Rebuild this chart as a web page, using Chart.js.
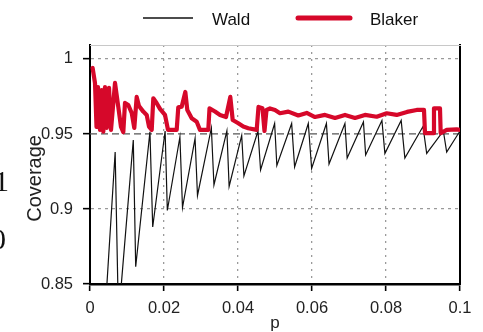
<!DOCTYPE html>
<html><head><meta charset="utf-8">
<script src="https://cdn.jsdelivr.net/npm/chart.js@4.4.1/dist/chart.umd.min.js"></script>
<style>
html,body{margin:0;padding:0;background:#fff;overflow:hidden}
#wrap{position:relative;width:483px;height:332px;background:#fff}
canvas{position:absolute;left:0;top:0}
.frag{position:absolute;font-family:"Liberation Serif","DejaVu Serif",serif;font-size:30px;color:#111;line-height:1}
</style></head><body>
<div id="wrap"><canvas id="c" width="483" height="332"></canvas>
<div class="frag" style="left:-6px;top:166px">1</div>
<div class="frag" style="left:-9px;top:224px">0</div>
</div>
<script>
// ---- data ----
const seriesNames = ['Wald', 'Blaker'];
const xTicks = [0, 0.02, 0.04, 0.06, 0.08, 0.1];
const yTicks = [0.85, 0.9, 0.95, 1];
const xRange = [0, 0.1];
const yRange = [0.85, 1.0093];
const refLevel = [0.95];

const pWald = [0.0043, 0.0068, 0.0076, 0.0081, 0.0117, 0.01235, 0.0162, 0.01695, 0.0203, 0.0209, 0.0243, 0.025, 0.0284, 0.02905, 0.0328, 0.0335, 0.037, 0.0376, 0.041, 0.0416, 0.0454, 0.0461, 0.0499, 0.0505, 0.0545, 0.0553, 0.059, 0.0599, 0.0639, 0.0646, 0.0689, 0.0695, 0.0739, 0.0745, 0.0789, 0.0797, 0.0841, 0.0851, 0.09, 0.091, 0.0955, 0.0964, 0.1];
const covWald = [0.839, 0.938, 0.839, 0.839, 0.946, 0.8615, 0.9515, 0.888, 0.952, 0.899, 0.948, 0.901, 0.947, 0.909, 0.954, 0.916, 0.952, 0.915, 0.949, 0.922, 0.952, 0.926, 0.957, 0.929, 0.957, 0.928, 0.957, 0.927, 0.957, 0.93, 0.957, 0.934, 0.958, 0.936, 0.959, 0.937, 0.959, 0.934, 0.955, 0.937, 0.952, 0.938, 0.952];

const pBlaker = [0.0007, 0.00135, 0.00176, 0.00216, 0.0027, 0.00316, 0.0036, 0.00405, 0.00451, 0.00514, 0.00568, 0.00676, 0.00765, 0.00838, 0.009, 0.00946, 0.01035, 0.01127, 0.01197, 0.01262, 0.01324, 0.0144, 0.01532, 0.01595, 0.01668, 0.01711, 0.01803, 0.01892, 0.02027, 0.02108, 0.02343, 0.02386, 0.02478, 0.02576, 0.0263, 0.02749, 0.02884, 0.02973, 0.03197, 0.0323, 0.03378, 0.03514, 0.03676, 0.03792, 0.03857, 0.04008, 0.04143, 0.04278, 0.04505, 0.04554, 0.04662, 0.04716, 0.0477, 0.04865, 0.05, 0.05135, 0.0536, 0.0563, 0.05857, 0.06081, 0.06351, 0.06622, 0.06892, 0.07162, 0.07432, 0.07749, 0.08019, 0.08289, 0.08568, 0.0883, 0.09027, 0.09054, 0.09278, 0.09297, 0.09459, 0.09478, 0.09641, 0.09911, 0.1];
const covBlaker = [0.994, 0.984, 0.9547, 0.9813, 0.9527, 0.9793, 0.9515, 0.9813, 0.954, 0.9807, 0.9527, 0.984, 0.968, 0.9547, 0.9513, 0.9707, 0.9693, 0.964, 0.954, 0.9747, 0.9687, 0.9649, 0.9627, 0.9549, 0.9527, 0.9738, 0.9705, 0.9667, 0.9627, 0.9527, 0.9527, 0.9677, 0.9682, 0.978, 0.966, 0.9605, 0.9582, 0.9527, 0.9527, 0.9671, 0.965, 0.9627, 0.9613, 0.9747, 0.9593, 0.9571, 0.9549, 0.9538, 0.9527, 0.968, 0.9671, 0.952, 0.966, 0.967, 0.966, 0.9638, 0.9649, 0.9623, 0.964, 0.9613, 0.9627, 0.9607, 0.9627, 0.9607, 0.9627, 0.9615, 0.9638, 0.9627, 0.9647, 0.966, 0.966, 0.9505, 0.9505, 0.9671, 0.9671, 0.9505, 0.9527, 0.9531, 0.9527];

// ---- chart ----
const FONT = '"Liberation Sans", Arial, Helvetica, sans-serif';
const toPts = (xs, ys) => xs.map((x, i) => ({x: x, y: ys[i]}));
const fmt = v => String(+Number(v).toFixed(2));

const topLegend = {
  id: 'topLegend',
  afterDraw(chart) {
    const ctx = chart.ctx;
    const slots = [{x1: 143, x2: 193, tx: 212}, {x1: 298, x2: 350, tx: 370}];
    ctx.save();
    seriesNames.forEach((name, i) => {
      const d = chart.data.datasets.find(ds => ds.label === name);
      const s = slots[i];
      ctx.beginPath();
      ctx.strokeStyle = d.borderColor;
      ctx.lineWidth = d.legendLineWidth;
      ctx.lineCap = d.legendCap;
      ctx.moveTo(s.x1, 18); ctx.lineTo(s.x2, 18);
      ctx.stroke();
      ctx.fillStyle = '#111';
      ctx.font = '17px ' + FONT;
      ctx.textAlign = 'left';
      ctx.textBaseline = 'alphabetic';
      ctx.fillText(d.label, s.tx, 24.5);
    });
    ctx.restore();
  }
};

const hidden = 'rgba(0,0,0,0)';
new Chart(document.getElementById('c'), {
  type: 'line',
  data: {
    datasets: [
      {label: seriesNames[1], data: toPts(pBlaker, covBlaker), borderColor: '#d6082a', borderWidth: 4.2,
       borderJoinStyle: 'round', borderCapStyle: 'round', pointRadius: 0, tension: 0, order: 1,
       legendLineWidth: 5, legendCap: 'round'},
      {label: seriesNames[0], data: toPts(pWald, covWald), borderColor: '#111', borderWidth: 1.2,
       pointRadius: 0, tension: 0, order: 2, legendLineWidth: 1.5, legendCap: 'butt'},
      {label: 'ref', data: toPts(xRange, [refLevel[0], refLevel[0]]), borderColor: '#555', borderWidth: 1.3,
       borderDash: [7, 4], pointRadius: 0, order: 3}
    ]
  },
  options: {
    responsive: false, animation: false, events: [],
    layout: {padding: {left: 0, right: 23, top: 45, bottom: 0}},
    plugins: {legend: {display: false}, tooltip: {enabled: false}},
    scales: {
      x: {
        type: 'linear', position: 'bottom', min: xRange[0], max: xRange[1],
        afterBuildTicks: s => { s.ticks = xTicks.map(v => ({value: v})); },
        afterFit: s => { s.height = 48; },
        ticks: {padding: 8, color: '#222', autoSkip: false, maxRotation: 0,
                font: {family: FONT, size: 16.5}, callback: v => fmt(v)},
        grid: {color: c => (c.tick && (c.tick.value === 0 || c.tick.value === 0.1)) ? hidden : '#9a9a9a',
               lineWidth: 1.3, tickColor: '#000', tickLength: 7, tickWidth: 1.6},
        border: {display: true, color: '#000', width: 2.6, dash: [2, 5]},
        title: {display: true, text: 'p', color: '#222', font: {family: FONT, size: 17}, padding: {top: 0, bottom: -2}}
      },
      y: {
        type: 'linear', position: 'left', min: yRange[0], max: yRange[1],
        afterBuildTicks: s => { s.ticks = yTicks.map(v => ({value: v})); },
        afterFit: s => { s.width = 90; },
        ticks: {padding: 10, color: '#222', font: {family: FONT, size: 16.5}, callback: v => fmt(v)},
        grid: {color: c => (c.tick && (c.tick.value === 0.85 || c.tick.value === 0.95)) ? hidden : '#9a9a9a',
               lineWidth: 1.3, tickColor: '#000', tickLength: 7, tickWidth: 1.6},
        border: {display: true, color: '#000', width: 2, dash: [3, 4]},
        title: {display: true, text: 'Coverage     ', color: '#222', font: {family: FONT, size: 20}, padding: {top: 23, bottom: 0}}
      },
      yR: {
        type: 'linear', position: 'right', min: yRange[0], max: yRange[1],
        afterFit: s => { s.width = 0; },
        ticks: {display: false}, grid: {display: false, drawTicks: false},
        border: {display: true, color: '#000', width: 2}
      },
      xT: {
        type: 'linear', position: 'top', min: xRange[0], max: xRange[1],
        afterFit: s => { s.height = 0; },
        ticks: {display: false}, grid: {display: false, drawTicks: false},
        border: {display: true, color: '#c8c8c8', width: 1}
      }
    }
  },
  plugins: [topLegend]
});
</script>
</body></html>
